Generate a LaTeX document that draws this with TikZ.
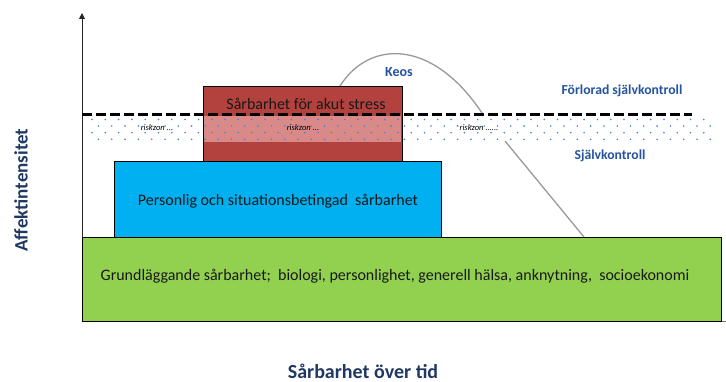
\documentclass[tikz,border=0pt]{standalone}
\usepackage{fontspec}
\setmainfont{Carlito}
\usetikzlibrary{arrows.meta}
\definecolor{grn}{HTML}{92D050}
\definecolor{blu}{HTML}{00B0F0}
\definecolor{redb}{HTML}{B3413D}
\definecolor{pinkb}{HTML}{D98A88}
\definecolor{lbl}{HTML}{2453A0}
\definecolor{navy}{HTML}{1F3864}
\definecolor{dotc}{HTML}{4A82D0}
\tikzset{
  layer/.style={draw=black, line width=1.3pt, anchor=north west, inner sep=0pt},
  boxtext/.style={font=\fontsize{16}{18}\selectfont, text=black!90},
  zonelbl/.style={font=\fontsize{13.7}{15}\selectfont\bfseries, text=lbl},
  risk/.style={font=\fontsize{8.5}{9}\selectfont\itshape, text=black},
  axis/.style={line width=1pt, black!85},
  curve/.style={line width=1.3pt, black!40},
}
\begin{document}
\begin{tikzpicture}[x=1pt, y=-1pt]
\useasboundingbox (0,0) rectangle (726,382);
% axes
\coordinate (o) at (82,321);
\coordinate (ytop) at (82,13);
\coordinate (xend) at (726,321);
\draw[axis, -{Triangle[length=6pt,width=6pt]}] (o) -- (ytop);
\draw[line width=1pt, black!55] (o) -- (xend);
% curve (lower part behind layers)
\coordinate (c0) at (340,86);
\coordinate (c1) at (482,113);
\coordinate (c2) at (505,141);
\coordinate (c3) at (584,237);
\draw[curve] (c0) .. controls (369,40) and (432,38) .. (c1);
\draw[curve] (c2) -- (c3);
% layers
\node[layer, fill=grn, minimum width=639pt, minimum height=84pt] (ground) at (82,237) {};
\node[boxtext] (groundtxt) at (395,276) {Grundläggande sårbarhet;\ \ biologi,\ personlighet, generell hälsa, anknytning,\ \ socioekonomi};
\node[layer, fill=blu, minimum width=327pt, minimum height=76pt] (pers) at (114,161) {};
\node[boxtext] (perstxt) at (278,201) {Personlig och situationsbetingad\ \ sårbarhet};
\node[layer, fill=redb, minimum width=199pt, minimum height=75pt] (acute) at (203,86) {};
\node[boxtext] (acutetxt) at (306,104) {Sårbarhet\ för akut\ stress};
% dotted risk band
\fill[pinkb] (203.7,116) rectangle (401.3,142);
\foreach \r/\yy in {0/119.5,1/126,2/132.7,3/139.3}{
  \pgfmathsetmacro{\xo}{mod(\r,2)==0 ? 92 : 98.5}
  \foreach \k in {0,...,46}{
    \fill[dotc] (\xo+13.3*\k,\yy) circle (0.9pt);
  }
}
\node[risk] (r1) at (157,128) {riskzon ...};
\node[risk] (r2) at (303,128) {riskzon ...};
\node[risk] (r3) at (479,128) {riskzon ......};
% dashed threshold
\coordinate (d0) at (82,114.5);
\coordinate (d1) at (692,114.5);
\draw[line width=2.8pt, dash pattern=on 10pt off 4pt] (d0) -- (d1);
% zone labels
\node[zonelbl, font=\fontsize{14}{16}\selectfont\bfseries] (keos) at (399,72) {Keos};
\node[zonelbl] (lost) at (622,91) {Förlorad självkontroll};
\node[zonelbl] (self) at (610,156) {Självkontroll};
% axis labels
\node[rotate=90, font=\fontsize{19}{21}\selectfont\bfseries, text=navy] (ylab) at (21,190) {Affektintensitet};
\node[font=\fontsize{20}{22}\selectfont\bfseries, text=navy] (xlab) at (363,371) {Sårbarhet över tid};
\end{tikzpicture}
\end{document}
